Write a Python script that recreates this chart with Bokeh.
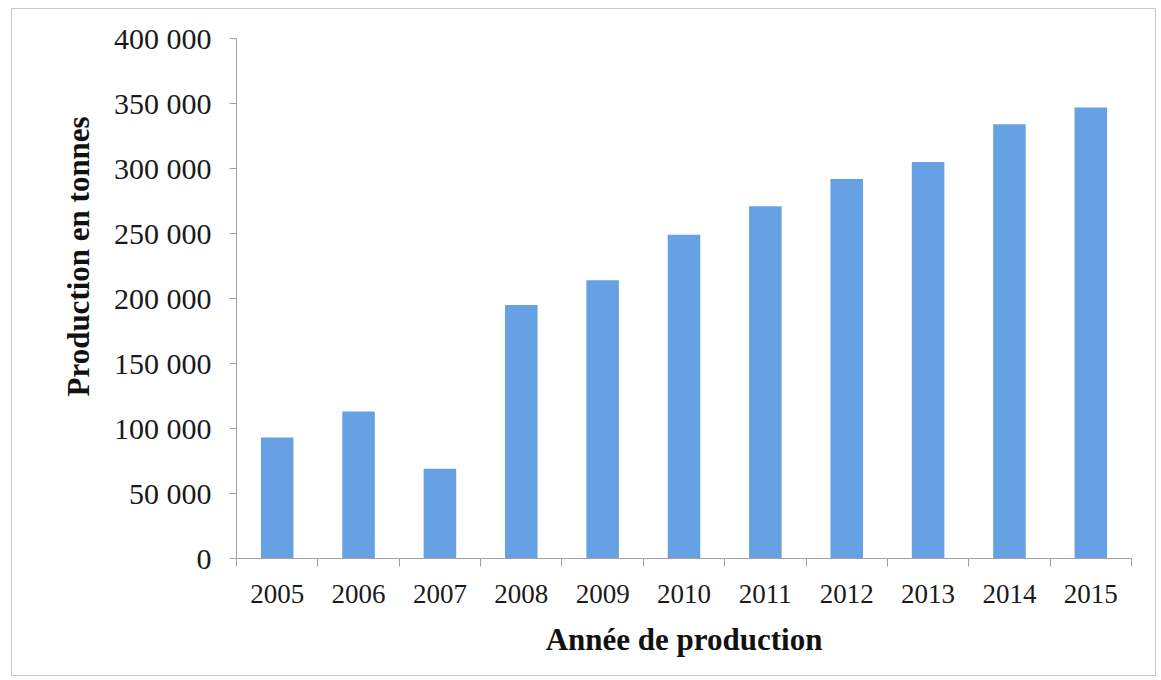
from bokeh.plotting import figure
from bokeh.models import Range1d, FixedTicker, LinearAxis, ColumnDataSource, Title
from bokeh.embed import file_html
from bokeh.resources import INLINE

# Production annuelle (tonnes)
years = ["2005", "2006", "2007", "2008", "2009", "2010",
         "2011", "2012", "2013", "2014", "2015"]
production = [93000, 113000, 69000, 195000, 214000, 249000,
              271000, 292000, 305000, 334000, 347000]
y_ticks = [0, 50000, 100000, 150000, 200000, 250000, 300000, 350000, 400000]
y_tick_labels = ["0", "50 000", "100 000", "150 000", "200 000", "250 000",
                 "300 000", "350 000", "400 000"]

SERIF = "Liberation Serif"
BAR = "#66A2E3"
AXIS = "#A0A0A0"

n = len(years)
centers = [i + 0.5 for i in range(n)]
src = ColumnDataSource(dict(x=centers, top=production))

# chart box sits 12 px from the left and 9 px from the top of the page
p = figure(width=1145, height=668, output_backend="svg", toolbar_location=None,
           x_range=Range1d(0, n), y_range=Range1d(0, 400000),
           x_axis_location=None, y_axis_location="left",
           min_border_left=224, min_border_right=26,
           min_border_top=29, min_border_bottom=119)
p.margin = (8, 0, 0, 11)
p.styles = {"border": "1.5px solid #C8C8C8"}
p.background_fill_color = "white"
p.border_fill_color = "white"
p.outline_line_color = None
p.grid.visible = False

p.vbar(x="x", top="top", width=0.4, bottom=0, source=src,
       fill_color=BAR, line_color=None)

# y axis
ya = p.yaxis[0]
ya.ticker = FixedTicker(ticks=y_ticks)
ya.major_label_overrides = {v: s for v, s in zip(y_ticks, y_tick_labels)}
ya.minor_tick_line_color = None
ya.major_tick_in = 0
ya.major_tick_out = 7
ya.major_tick_line_color = AXIS
ya.axis_line_color = AXIS
ya.major_label_standoff = 18
ya.major_label_text_font = SERIF
ya.major_label_text_font_size = "30px"
ya.major_label_text_color = "#1a1a1a"

# y title, set a little above the middle of the axis
p.add_layout(Title(text="Production en tonnes", align="left", offset=162,
                   standoff=29, text_font=SERIF, text_font_style="bold",
                   text_font_size="31px", text_color="#111111"), "left")

# x axis: tick marks at category boundaries
xt = LinearAxis(ticker=FixedTicker(ticks=list(range(n + 1))))
xt.major_label_overrides = {i: "" for i in range(n + 1)}
xt.major_label_text_font_size = "1px"
xt.major_label_standoff = 0
xt.minor_tick_line_color = None
xt.major_tick_in = 0
xt.major_tick_out = 8
xt.major_tick_line_color = AXIS
xt.axis_line_color = AXIS
p.add_layout(xt, "below")

# x axis: year labels at bar centres
xl = LinearAxis(ticker=FixedTicker(ticks=centers))
xl.major_label_overrides = {c: y for c, y in zip(centers, years)}
xl.axis_line_color = None
xl.major_tick_line_color = None
xl.minor_tick_line_color = None
xl.major_tick_out = 0
xl.major_tick_in = 0
xl.major_label_standoff = 18
xl.major_label_text_font = SERIF
xl.major_label_text_font_size = "27px"
xl.major_label_text_color = "#1a1a1a"
xl.axis_label = "Année de production"
xl.axis_label_text_font = SERIF
xl.axis_label_text_font_style = "bold"
xl.axis_label_text_font_size = "31px"
xl.axis_label_text_color = "#111111"
xl.axis_label_standoff = 16
p.add_layout(xl, "below")

open("out.html", "w").write(file_html(p, INLINE))
